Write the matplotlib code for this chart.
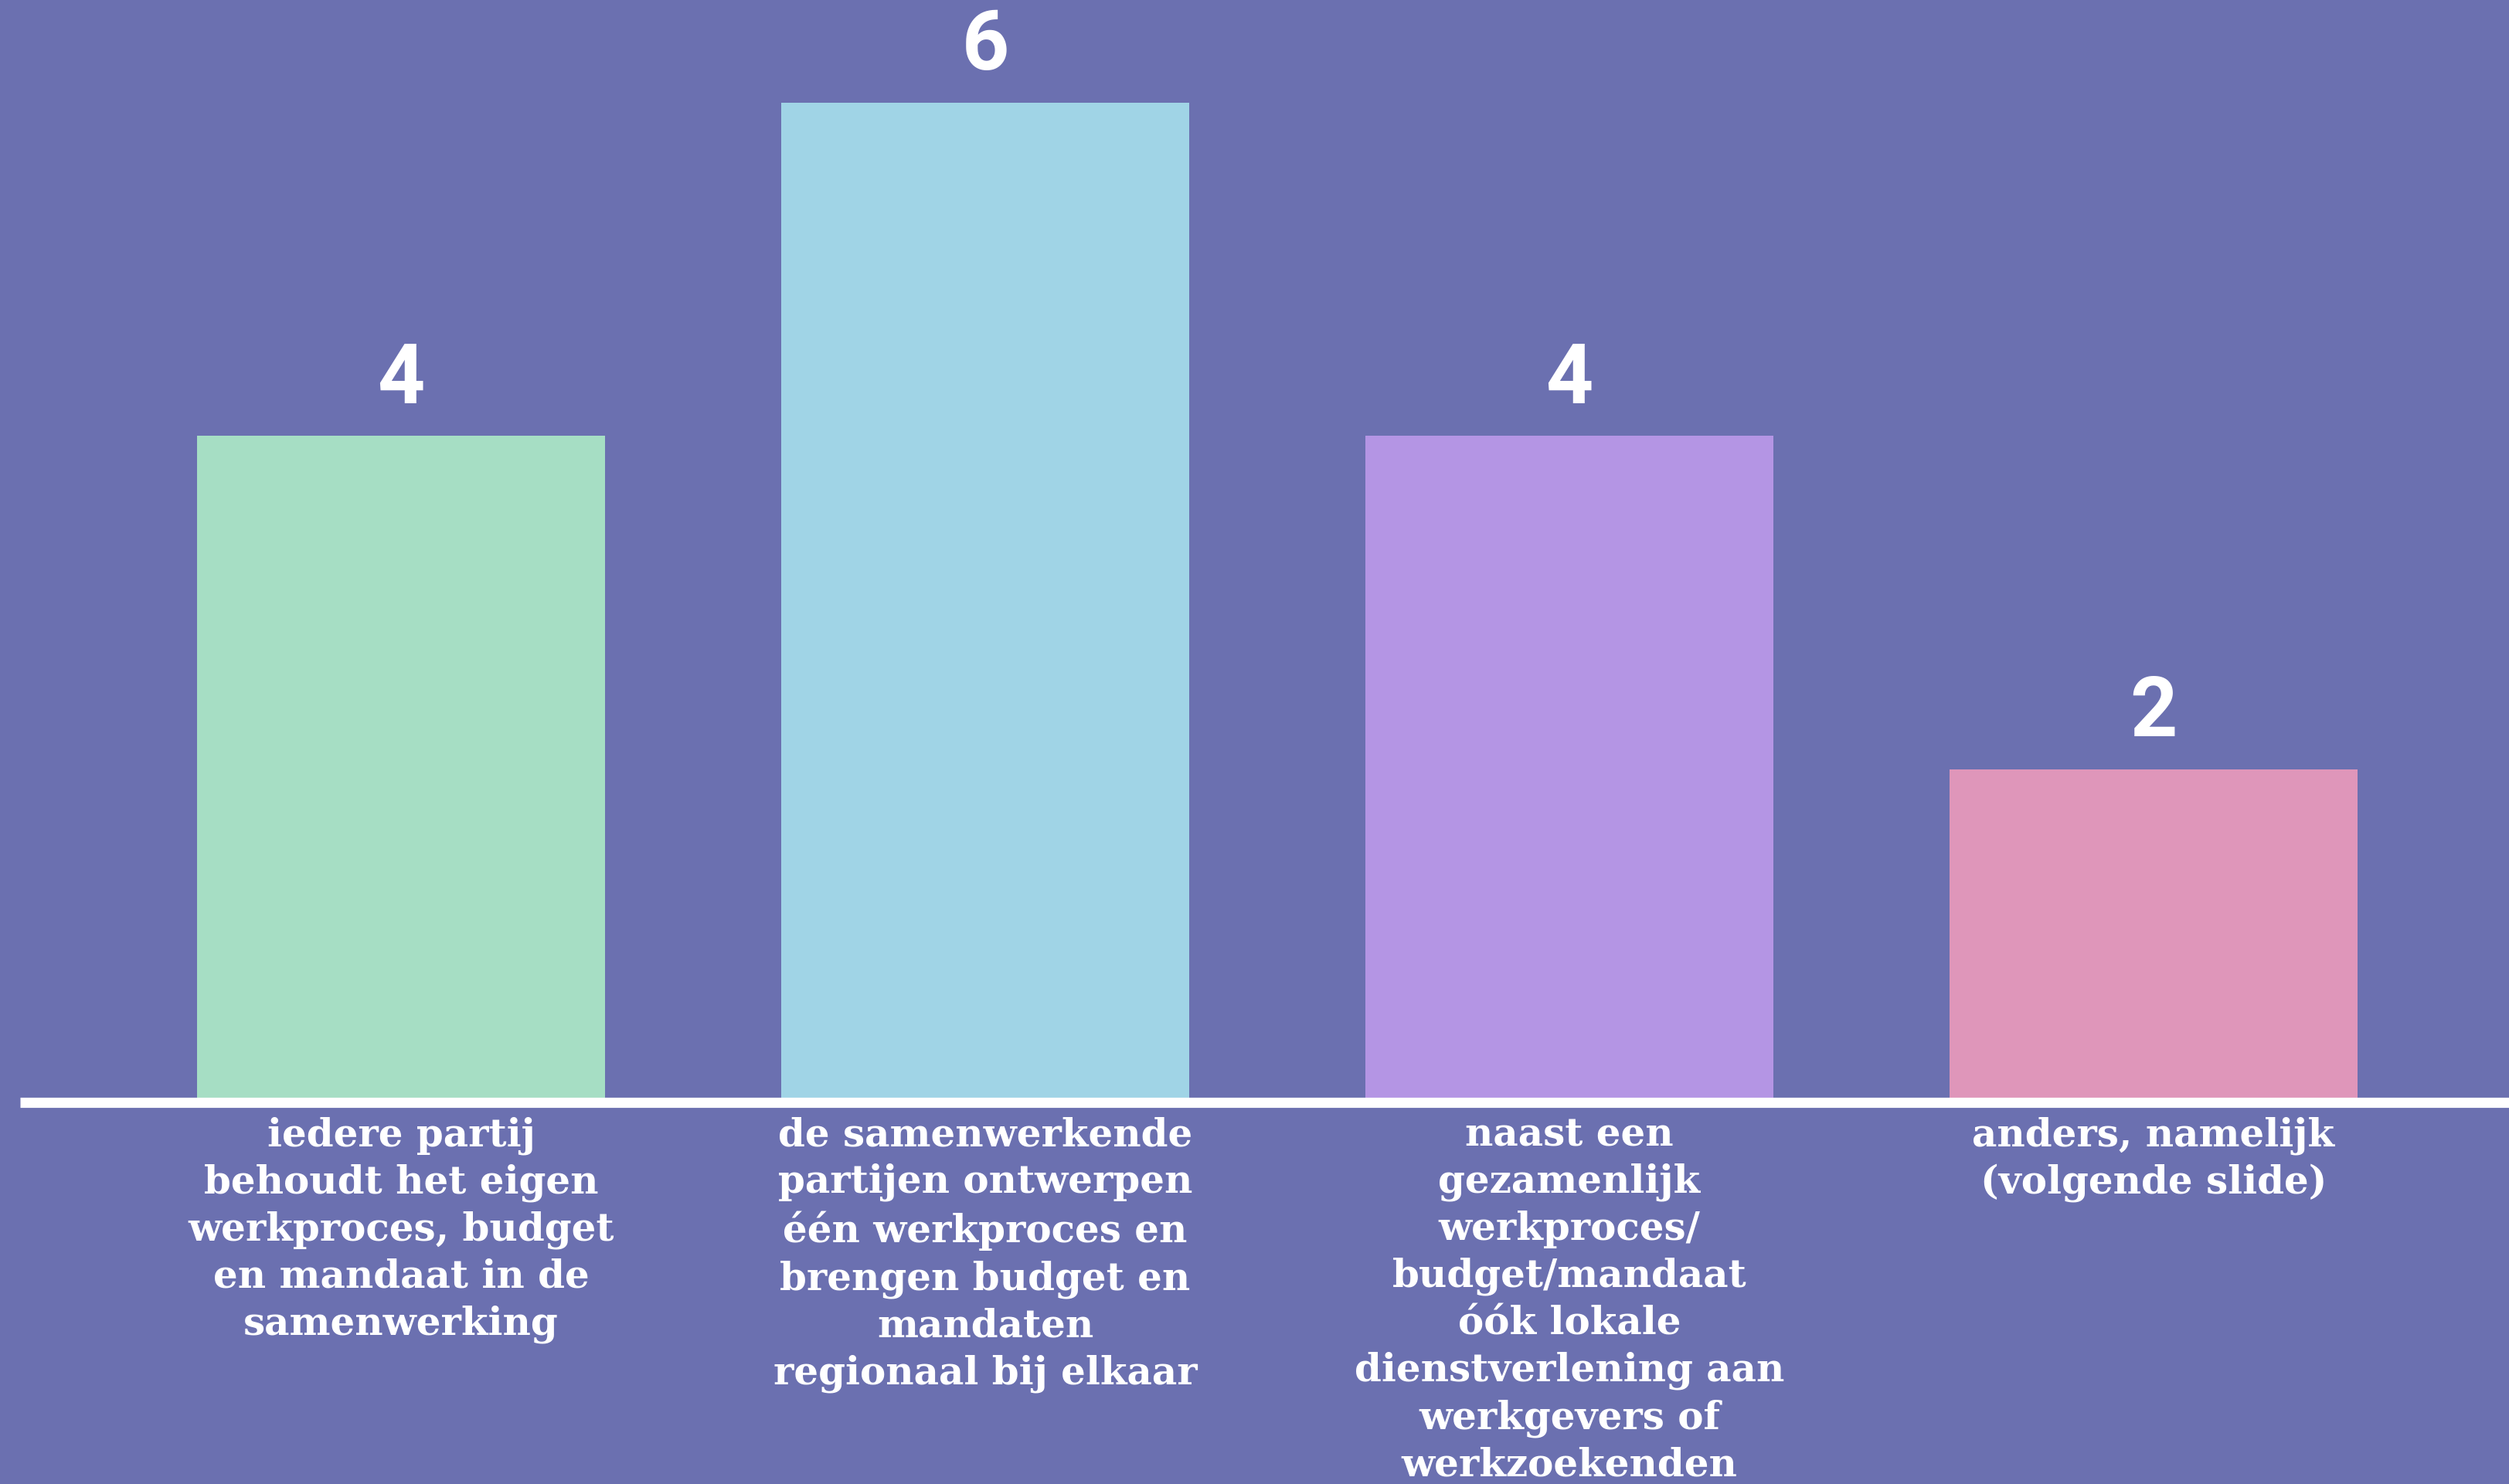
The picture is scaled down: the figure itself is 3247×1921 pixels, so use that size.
import matplotlib
matplotlib.use("Agg")
import matplotlib.pyplot as plt

categories = [
    "iedere partij\nbehoudt het eigen\nwerkproces, budget\nen mandaat in de\nsamenwerking",
    "de samenwerkende\npartijen ontwerpen\néén werkproces en\nbrengen budget en\nmandaten\nregionaal bij elkaar",
    "naast een\ngezamenlijk\nwerkproces/\nbudget/mandaat\nóók lokale\ndienstverlening aan\nwerkgevers of\nwerkzoekenden",
    "anders, namelijk\n(volgende slide)",
]
values = [4, 6, 4, 2]
colors = ["#A6DEC4", "#A0D4E6", "#B495E4", "#DF96BA"]
bg = "#6B70B0"

W, H = 3247, 1921
dpi = 100
fig = plt.figure(figsize=(W / dpi, H / dpi), dpi=dpi, facecolor=bg)

base_px = 1427  # from top
ax = fig.add_axes([0, (H - base_px) / H, 1, base_px / H])
ax.set_facecolor(bg)
spacing = 756.0
c0 = 519.0
ax.set_xlim(-c0 / spacing, (W - c0) / spacing)
unit = (base_px - 133) / 6.0
ax.set_ylim(0, base_px / unit)
ax.axis("off")

x = list(range(len(values)))
bars = ax.bar(x, values, width=528 / spacing, color=colors, zorder=2)

for xi, v in zip(x, values):
    ax.annotate(str(v), (xi, v), xytext=(0, 15), textcoords="offset points",
                ha="center", va="bottom", color="white", fontsize=77,
                fontweight="bold", family="Roboto")

# baseline
ax.axhline(0, xmin=26 / W, xmax=1, color="white", linewidth=9.5, zorder=3,
           solid_capstyle="butt", clip_on=False)

for xi, lab in zip(x, categories):
    ax.annotate(lab, (xi, 0), xytext=(0, -13), textcoords="offset points",
                ha="center", va="top", color="white", fontsize=36,
                fontweight="bold", family="DejaVu Serif", linespacing=1.31,
                annotation_clip=False)

fig.savefig("out.png", dpi=dpi, facecolor=bg)
